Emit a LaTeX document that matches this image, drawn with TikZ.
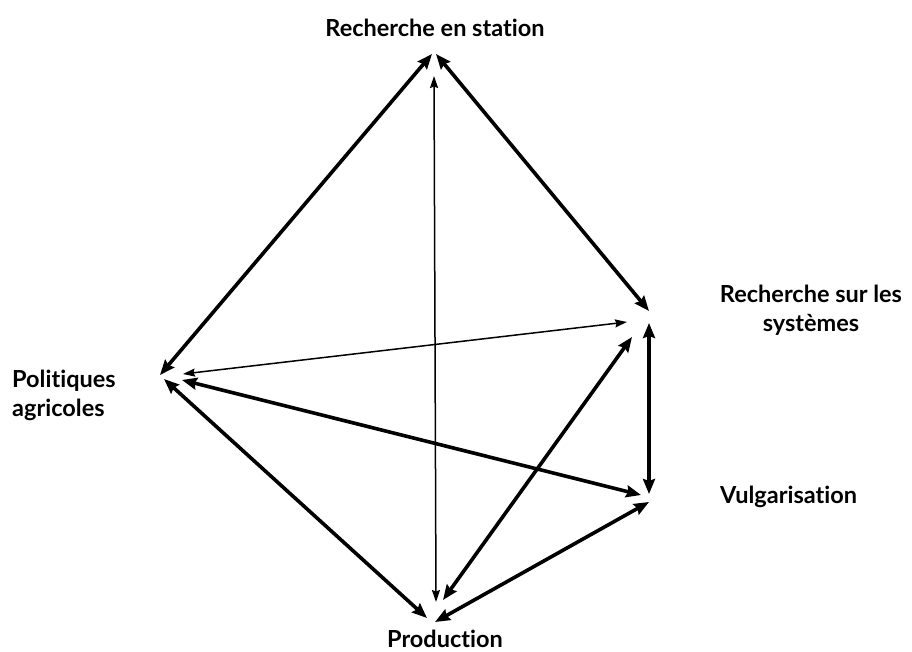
\documentclass[tikz,border=0pt]{standalone}
\usepackage{fontspec}
\setmainfont{Lato}[Ligatures=NoCommon]
\usetikzlibrary{arrows.meta}

\begin{document}
\begin{tikzpicture}[x=1pt,y=-1pt,
	every node/.style={font=\bfseries\fontsize{23.5}{29}\selectfont, inner sep=0pt},
	lien/.style={line width=3.6pt, {Stealth[length=15pt,width=12pt,inset=2pt]}-{Stealth[length=15pt,width=12pt,inset=2pt]}},
	fin/.style={line width=1.5pt, {Stealth[length=12pt,width=8pt,inset=1.5pt]}-{Stealth[length=12pt,width=8pt,inset=1.5pt]}}]
	\useasboundingbox (0,0) rectangle (912,652);
	% labels
	\node (rs) at (435,28) {Recherche en station};
	\node[align=center] (sys) at (811,310) {Recherche sur les\\systèmes};
	\node[align=left, anchor=west] (pol) at (12,395) {Politiques\\agricoles};
	\node[anchor=west] (vul) at (720,497) {Vulgarisation};
	\node (prod) at (445,639) {Production};
	% arrow ends
	\coordinate (rs-w) at (432,54);
	\coordinate (rs-e) at (436,54);
	\coordinate (rs-s) at (434,76);
	\coordinate (sys-n) at (649,311);
	\coordinate (sys-w) at (627,322);
	\coordinate (sys-sw) at (632,337);
	\coordinate (sys-s) at (649,323);
	\coordinate (pol-n) at (160,375);
	\coordinate (pol-e) at (183,374);
	\coordinate (pol-se) at (182,380);
	\coordinate (pol-s) at (164,379);
	\coordinate (vul-n) at (649,494);
	\coordinate (vul-w) at (641,495);
	\coordinate (vul-s) at (649,502);
	\coordinate (prod-n) at (436,602);
	\coordinate (prod-ne) at (443,600);
	\coordinate (prod-w) at (427,618);
	\coordinate (prod-e) at (435,622);
	% links
	\draw[lien] (pol-n) -- (rs-w);
	\draw[lien] (rs-e) -- (sys-n);
	\draw[fin] (rs-s) -- (prod-n);
	\draw[fin] (pol-e) -- (sys-w);
	\draw[lien] (pol-se) -- (vul-w);
	\draw[lien] (pol-s) -- (prod-w);
	\draw[lien] (sys-sw) -- (prod-ne);
	\draw[lien] (sys-s) -- (vul-n);
	\draw[lien] (vul-s) -- (prod-e);
\end{tikzpicture}
\end{document}
